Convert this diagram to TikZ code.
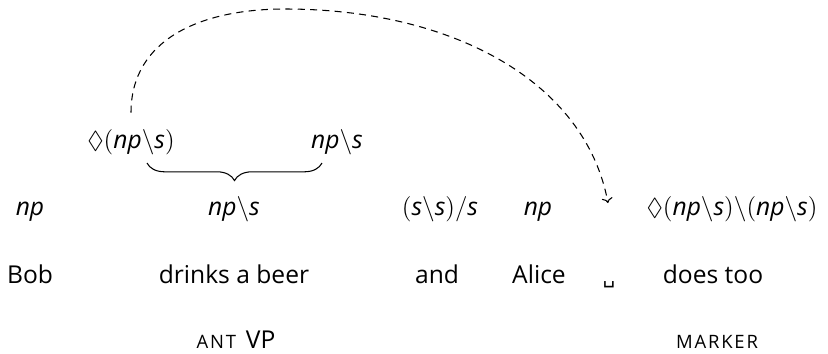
\documentclass[tikz,border=0pt]{standalone}
\usepackage{amssymb}
\usepackage{fontspec}
\setmainfont{Open Sans}
\newfontfamily\symfont{DejaVu Sans}
\usetikzlibrary{arrows.meta, decorations.pathreplacing}
\newcommand{\ct}[1]{\textit{#1}}
\newcommand{\bsl}{\backslash}
\newcommand{\smc}[1]{{\fontsize{10.5}{12}\selectfont\addfontfeature{LetterSpace=10}\MakeUppercase{#1}}}
\tikzset{
    cat/.style={anchor=base, inner sep=0pt, execute at begin node=$, execute at end node=$}, % categories
    word/.style={anchor=base, inner sep=0pt}, % words and labels
    gapline/.style={semithick, dash pattern=on 4pt off 3pt, -{To}}, % the dashed link
}

\begin{document}
\begin{tikzpicture}[x=0.02cm, y=-0.02cm, font=\fontsize{14}{17}\selectfont]
    \useasboundingbox (0,0) rectangle (828,353);
    % Top categories
    \node[cat] (dnp) at (131,148) {\Diamond(\ct{np}\bsl\ct{s})};
    \node[cat] (vpr) at (337,148) {\ct{np}\bsl\ct{s}};
    % Categories
    \node[cat] (cbob)   at (30,215)  {\ct{np}};
    \node[cat] (cvp)    at (234,215) {\ct{np}\bsl\ct{s}};
    \node[cat] (cand)   at (440,215) {(\ct{s}\bsl\ct{s})/\ct{s}};
    \node[cat] (calice) at (538,215) {\ct{np}};
    \node[cat] (cdoes)  at (732,215) {\Diamond(\ct{np}\bsl\ct{s})\bsl(\ct{np}\bsl\ct{s})};
    % Words
    \node[word] (bob)    at (30,283)  {Bob};
    \node[word] (drinks) at (234,283) {drinks a beer};
    \node[word] (and)    at (437,283) {and};
    \node[word] (alice)  at (539,283) {Alice};
    \node[word] (gapw)   at (609,283) {{\symfont\fontsize{11}{12}\selectfont ␣}};
    \node[word] (does)   at (713,283) {does too};
    % Labels
    \node[word] (ant)    at (236,348) {\smc{ant}\hspace{0.4em}VP};
    \node[word] (marker) at (717,348) {\smc{marker}};

    % Brace
    \coordinate (bl) at (147,163);
    \coordinate (br) at (322,163);
    \draw[semithick, decorate, decoration={brace, mirror, amplitude=10pt}] (bl) -- (br);

    % Dashed link to the gap
    \coordinate (peak) at (285,9);
    \coordinate (gap) at (608,203);
    \draw[gapline] ([yshift=0.32cm]dnp.north)
        .. controls +(0,-73) and (200,9) .. (peak)
        .. controls (450,9) and (585,80) .. (gap);
\end{tikzpicture}
\end{document}
